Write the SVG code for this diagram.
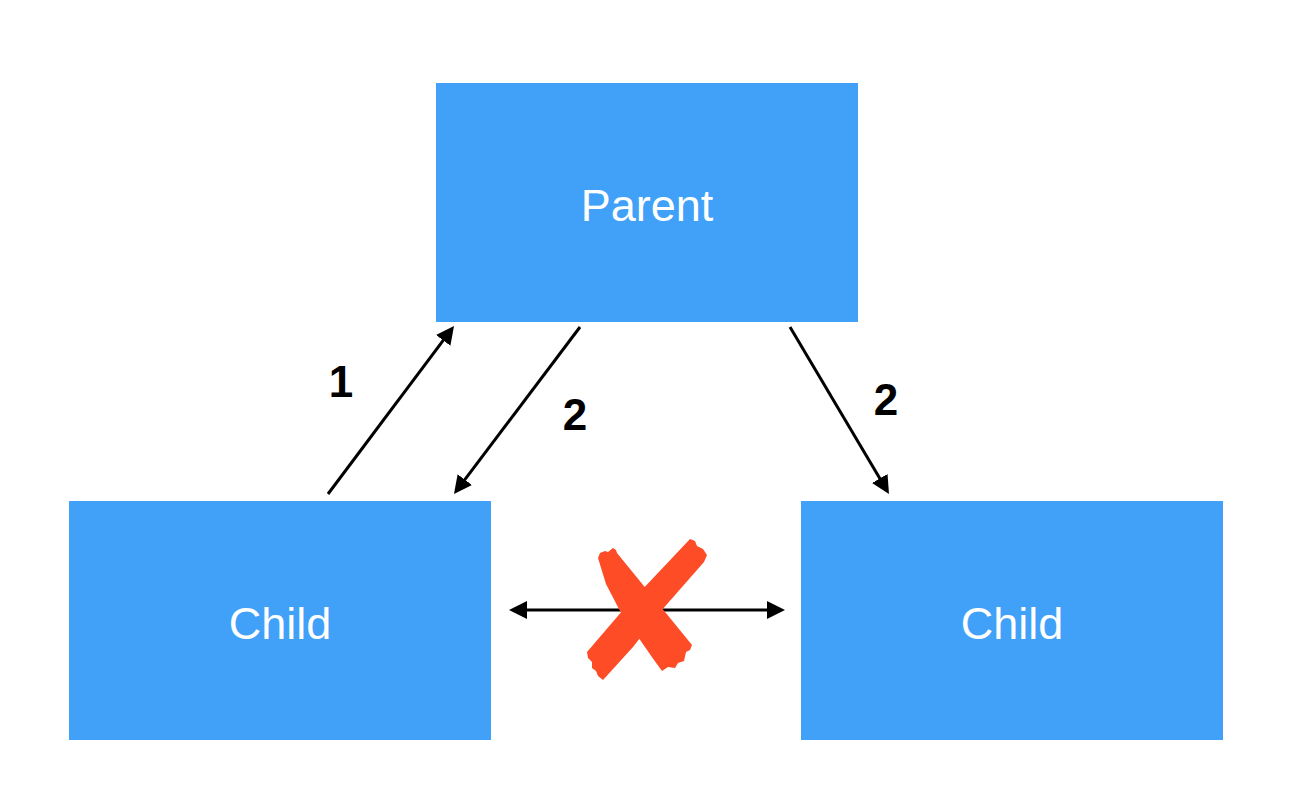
<svg xmlns="http://www.w3.org/2000/svg" width="1292" height="800" viewBox="0 0 1292 800">
<style>
.box{fill:#41A1F8}
.lbl{font-family:"Liberation Sans",Arial,sans-serif;font-size:45px;fill:#ffffff;text-anchor:middle}
.num{font-family:"Liberation Sans",Arial,sans-serif;font-size:44px;font-weight:bold;fill:#000000;text-anchor:middle}
.conn{stroke:#000000;stroke-width:3;fill:none}
</style>
<defs>
<marker id="ah" viewBox="0 0 18 18" refX="10" refY="9" markerWidth="18" markerHeight="18" markerUnits="userSpaceOnUse" orient="auto-start-reverse">
<path d="M0,0 L18,9 L0,18 Z" fill="#000000"/>
</marker>
</defs>
<rect width="1292" height="800" fill="#ffffff"/>
<g id="parent">
<rect class="box" x="436" y="83" width="422" height="239"/>
<text class="lbl" x="647" y="221">Parent</text>
</g>
<g id="child-left">
<rect class="box" x="69" y="501" width="422" height="239"/>
<text class="lbl" x="280" y="639">Child</text>
</g>
<g id="child-right">
<rect class="box" x="801" y="501" width="422" height="239"/>
<text class="lbl" x="1012" y="639">Child</text>
</g>
<g id="connectors">
<line class="conn" x1="328" y1="494" x2="449.2" y2="332.4" marker-end="url(#ah)"/>
<line class="conn" x1="580" y1="327" x2="458.8" y2="487.6" marker-end="url(#ah)"/>
<line class="conn" x1="790" y1="327" x2="884.9" y2="487.1" marker-end="url(#ah)"/>
<line class="conn" x1="517" y1="610" x2="777" y2="610" marker-start="url(#ah)" marker-end="url(#ah)"/>
</g>
<g id="labels">
<text class="num" x="341" y="397">1</text>
<text class="num" x="575" y="430">2</text>
<text class="num" x="886" y="415">2</text>
</g>
<g id="cross" fill="#FD4C26">
<path d="M598,558 L600,553 L605,551 L608,552 L613,548 L616,550 L617,553 L692,645 L690,650 L686,652 L684,661 L678,663 L675,668 L668,667 L662,671 L654,660 L620,611 L606,584 Z"/>
<path d="M690,539 L695,541 L697,546 L703,549 L707,555 L704,562 L661,611 L633,647 L603,680 L598,676 L596,671 L592,668 L592,662 L588,658 L587,652 L623,610 Z"/>
</g>
</svg>
